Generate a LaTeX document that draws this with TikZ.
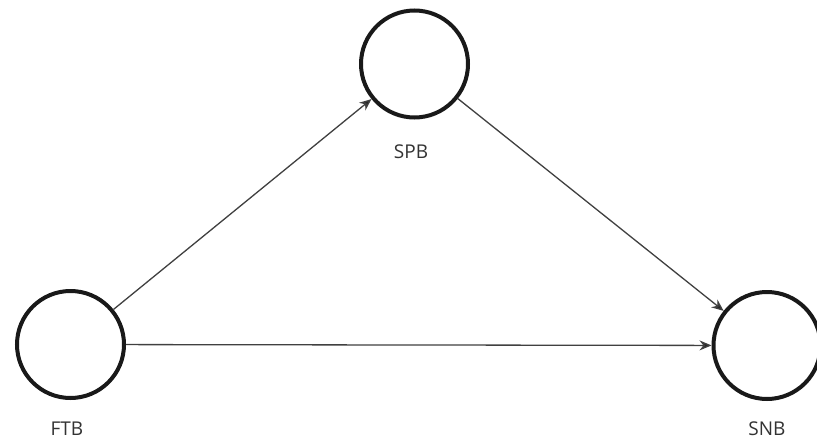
\documentclass[tikz,border=0pt]{standalone}
\usepackage{fontspec}
\setmainfont{Open Sans}
\usetikzlibrary{arrows.meta}
\begin{document}
\begin{tikzpicture}[x=1pt,y=-1pt,
  state/.style={circle,draw=black!90,line width=4pt,minimum size=107pt,inner sep=0pt},
  lbl/.style={font=\fontsize{19}{22}\selectfont,text=black!80},
  link/.style={draw=black!75,line width=1.3pt,-{Stealth[length=12pt,width=10pt,fill=black!85]}}]
  \useasboundingbox (0,0) rectangle (817,439);
  \clip (0,0) rectangle (817,439);
  \fill[white] (0,0) rectangle (817,439);
  % nodes
  \node[state] (spb) at (414.5,64) {};
  \node[state] (ftb) at (70.5,344.5) {};
  \node[state] (snb) at (767,345.5) {};
  % labels
  \node[lbl] (spbl) at (411,152) {SPB};
  \node[lbl] (ftbl) at (67,429) {FTB};
  \node[lbl] (snbl) at (767,429) {SNB};
  % connectors
  \draw[link] (ftb) -- (spb);
  \draw[link] (spb) -- (snb);
  \draw[link] (ftb) -- (snb);
\end{tikzpicture}
\end{document}
